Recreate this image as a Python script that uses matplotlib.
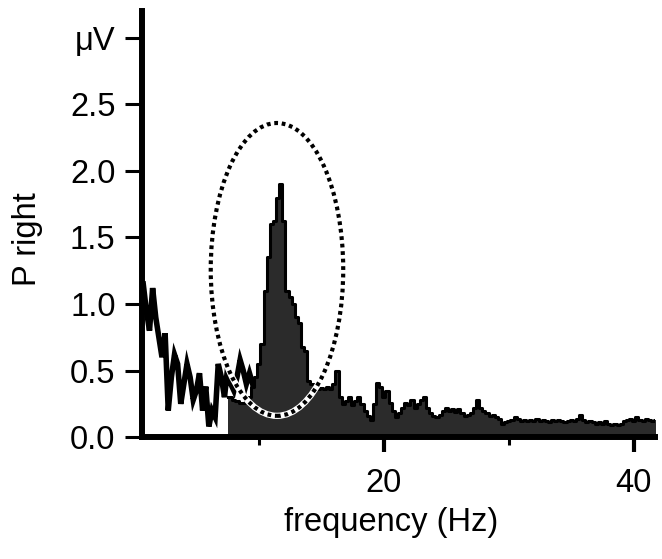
import numpy as np
import matplotlib
matplotlib.use("Agg")
import matplotlib.pyplot as plt
from matplotlib.patches import Ellipse

plt.rcParams['font.family'] = ['Liberation Sans', 'DejaVu Sans']

# Series A: low-frequency line (no fill), 0.25 Hz bins
freq_a = np.arange(0.75, 9.51, 0.25)
power_a = [1.15, 0.95, 0.80, 1.12, 0.90, 0.75, 0.60, 0.78, 0.20, 0.45,
           0.62, 0.55, 0.25, 0.40, 0.55, 0.45, 0.28, 0.35, 0.48, 0.20,
           0.38, 0.08, 0.20, 0.15, 0.55, 0.45, 0.30, 0.52, 0.40, 0.35,
           0.45, 0.58, 0.50, 0.40, 0.48, 0.40]

# Series B: filled spectrum, 0.25 Hz bins from 7.5 Hz
freq_b = np.arange(7.5, 41.76, 0.25)
power_b = [0.30, 0.30,
           0.28, 0.27, 0.26, 0.26,
           0.27, 0.30, 0.38, 0.45,
           0.55, 0.70, 1.10, 1.35,
           1.60, 1.62, 1.80, 1.90,
           1.62, 1.10, 1.05, 1.00,
           0.90, 0.86, 0.68, 0.65,
           0.42, 0.40, 0.38, 0.36,
           0.37, 0.36, 0.38, 0.36,
           0.40, 0.50, 0.30, 0.25,
           0.27, 0.30, 0.24, 0.27,
           0.30, 0.25, 0.20, 0.16,
           0.13, 0.25, 0.41, 0.38,
           0.30, 0.35, 0.26, 0.20,
           0.15, 0.18, 0.22, 0.26,
           0.24, 0.28, 0.22, 0.25,
           0.28, 0.30, 0.22, 0.18,
           0.16, 0.15, 0.17, 0.20,
           0.22, 0.20, 0.21, 0.19,
           0.21, 0.18, 0.16, 0.17,
           0.18, 0.22, 0.28, 0.22,
           0.20, 0.18, 0.16, 0.17,
           0.15, 0.14, 0.10, 0.11,
           0.12, 0.13, 0.15, 0.14,
           0.12, 0.13, 0.12, 0.13,
           0.12, 0.14, 0.12, 0.13,
           0.12, 0.11, 0.13, 0.12,
           0.13, 0.12, 0.11, 0.12,
           0.13, 0.12, 0.14, 0.17,
           0.13, 0.11, 0.12, 0.11,
           0.10, 0.11, 0.10, 0.12,
           0.10, 0.09, 0.10, 0.09,
           0.10, 0.12, 0.13, 0.14,
           0.12, 0.15, 0.13, 0.12,
           0.14, 0.13, 0.12, 0.13]

y_ticks = [0.0, 0.5, 1.0, 1.5, 2.0, 2.5, 3.0]
y_tick_labels = ['0.0', '0.5', '1.0', '1.5', '2.0', '2.5', '\u03bcV']
x_major = [20, 40]
x_minor = [10, 30]

# Highlight ellipse (alpha band region)
ell_center = (11.45, 1.26)
ell_width = 10.6
ell_height = 2.2

fig = plt.figure(figsize=(6.62, 5.59), dpi=100)
ax = fig.add_axes([0.2145, 0.218, 0.775, 0.762])

ax.fill_between(freq_b, 0, power_b, step='mid', color='#2b2b2b', lw=0, zorder=2)
ax.step(freq_b, power_b, where='mid', color='black', lw=2.2, zorder=3)
ax.plot(freq_a, power_a, color='black', lw=4, solid_joinstyle='miter', zorder=4)

ell_bg = Ellipse(ell_center, ell_width, ell_height, fill=False, ec='white', lw=4.5, zorder=5)
ell = Ellipse(ell_center, ell_width, ell_height, fill=False, ec='black', lw=3,
              linestyle=(0, (0.9, 0.9)), zorder=6)
ax.add_patch(ell_bg)
ax.add_patch(ell)

ax.set_xlim(0.65, 41.7)
ax.set_ylim(0, 3.2)

for s in ['top', 'right']:
    ax.spines[s].set_visible(False)
for s in ['left', 'bottom']:
    ax.spines[s].set_linewidth(4.3)
    ax.spines[s].set_zorder(7)

ax.set_yticks(y_ticks)
ax.set_yticklabels(y_tick_labels)
ax.set_xticks(x_major)
ax.set_xticks(x_minor, minor=True)
ax.tick_params(axis='y', length=12, width=2.2, labelsize=23.5, pad=7)
ax.tick_params(axis='x', which='major', length=11, width=3, labelsize=23.5, pad=11)
ax.tick_params(axis='x', which='minor', length=6, width=2.2)

ax.set_xlabel('frequency (Hz)', fontsize=23.5)
ax.set_ylabel('P right', fontsize=23.5)
ax.xaxis.set_label_coords(0.485, -0.163)
ax.xaxis.label.set_va('top')
ax.yaxis.set_label_coords(-0.193, 0.466)

fig.savefig('out.png', dpi=100)
